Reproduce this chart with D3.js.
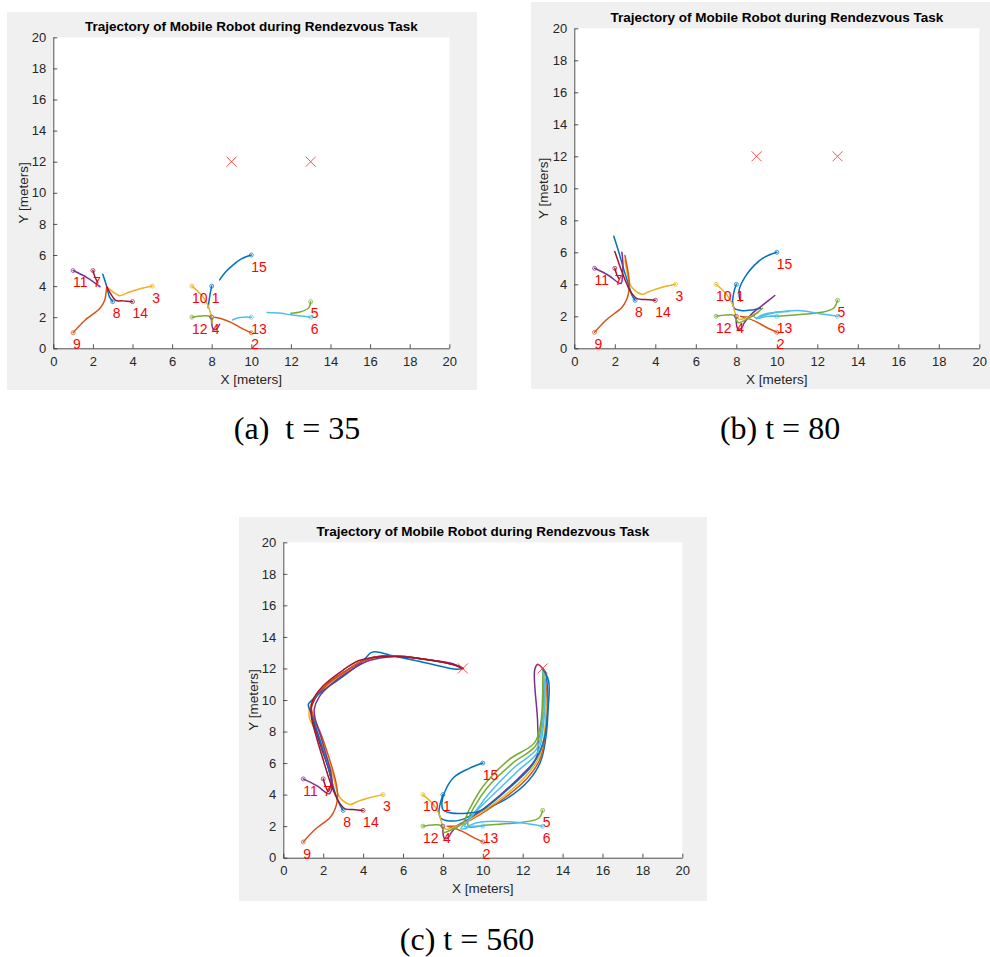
<!DOCTYPE html>
<html lang="en">
<head>
  <meta charset="UTF-8">
  <title>Trajectory of Mobile Robot during Rendezvous Task</title>
  <script src="https://cdn.jsdelivr.net/npm/d3@7"></script>
  <style>
    body { margin: 0; background: #fff; }
    svg text { font-family: "Liberation Sans", Arial, sans-serif; }
    .caption { font-family: "Liberation Serif", "Times New Roman", serif !important; white-space: pre; }
  </style>
</head>
<body>
<div id="app"></div>
<script>
  // robot ids and start positions
  const robotLabels = ['1', '2', '3', '4', '5', '6', '7', '8', '9', '10', '11', '12', '13', '14', '15'];
  const startX = [8, 10, 5, 8, 13, 13, 2, 3, 1, 7, 1, 7, 10, 4, 10];
  const startY = [4, 1, 4, 2, 3, 2, 5, 3, 1, 4, 5, 2, 2, 3, 6];
  const targetX = [9, 13];
  const targetY = [12, 12];
  const xTicks = [0, 2, 4, 6, 8, 10, 12, 14, 16, 18, 20];
  const yTicks = [0, 2, 4, 6, 8, 10, 12, 14, 16, 18, 20];
  const captions = ['(a)  t = 35', '(b) t = 80', '(c) t = 560'];

  // trajectories at t = 35
  const pathsT35 = [
    [[8, 4], [7.92, 3.5], [7.86, 3.0], [7.82, 2.6]],
    [[10, 1], [9.5, 1.3], [9.0, 1.65], [8.5, 1.9], [8.15, 2.0]],
    [[5, 4], [4.3, 3.8], [3.7, 3.55], [3.35, 3.38], [3.05, 3.6], [2.75, 3.9]],
    [[8, 2], [8.0, 1.6], [8.08, 1.22], [8.25, 1.25], [8.4, 1.55]],
    [[13, 3], [12.9, 2.6], [12.5, 2.35], [12.0, 2.25]],
    [[13, 2], [12.0, 2.15], [11.5, 2.25], [10.8, 2.3]],
    [[2, 5], [2.1, 4.6], [2.25, 4.2]],
    [[3, 3], [2.83, 3.32], [2.7, 3.96], [2.5, 4.76]],
    [[1, 1], [1.6, 1.8], [2.36, 2.57], [2.6, 3.1], [2.66, 3.54], [2.7, 3.92]],
    [[7, 4], [7.5, 3.4], [7.8, 2.8], [8.0, 2.0], [8.05, 1.8]],
    [[1, 5], [1.7, 4.55], [2.36, 3.96]],
    [[7, 2], [7.5, 2.08], [7.9, 2.05], [8.0, 1.8], [8.0, 1.6]],
    [[10, 2], [9.6, 2.0], [9.3, 1.95], [9.05, 1.82]],
    [[4, 3], [3.5, 3.05], [3.15, 3.08], [2.9, 3.5], [2.7, 3.95]],
    [[10, 6], [9.5, 5.75], [9.1, 5.38], [8.7, 4.9], [8.4, 4.4]]
  ];

  // trajectories at t = 80
  const pathsT80 = [
    [[8, 4], [7.88, 3.5], [7.82, 2.9], [7.9, 2.5], [8.3, 2.35], [8.8, 2.4], [9.2, 2.5]],
    [[10, 1], [9.5, 1.3], [9.0, 1.65], [8.5, 1.9], [8.2, 2.0], [8.5, 1.95], [8.9, 2.05]],
    [[5, 4], [4.3, 3.8], [3.7, 3.55], [3.35, 3.38], [3.0, 3.6], [2.75, 4.0], [2.6, 4.8], [2.5, 5.5]],
    [[8, 2], [8.0, 1.6], [8.08, 1.22], [8.25, 1.25], [8.4, 1.6], [8.8, 2.2], [9.3, 2.7], [9.9, 3.3]],
    [[13, 3], [12.8, 2.5], [12.2, 2.25], [11, 2.1], [10.2, 2.02], [9.7, 2.0]],
    [[13, 2], [12.2, 2.15], [11.2, 2.35], [10.3, 2.3], [9.6, 2.15], [9.0, 1.9], [8.9, 1.95]],
    [[2, 5], [2.1, 4.6], [2.2, 4.35]],
    [[3, 3], [2.85, 3.3], [2.7, 3.9], [2.45, 4.9], [2.2, 6.0], [1.95, 7.0]],
    [[1, 1], [1.6, 1.8], [2.36, 2.57], [2.6, 3.1], [2.7, 3.6], [2.72, 4.1], [2.65, 4.8], [2.5, 5.8]],
    [[7, 4], [7.5, 3.4], [7.8, 2.8], [8.0, 2.0], [8.15, 1.8], [8.6, 1.95], [9.1, 2.25]],
    [[1, 5], [1.7, 4.55], [2.3, 4.05], [2.38, 4.6], [2.4, 5.3], [2.35, 6.0]],
    [[7, 2], [7.5, 2.08], [7.9, 2.05], [8.0, 1.8], [8.1, 1.6], [8.5, 1.8], [9.0, 2.2], [9.3, 2.5]],
    [[10, 2], [9.6, 2.0], [9.2, 1.9], [9.0, 1.85], [9.3, 2.1], [9.9, 2.25], [10.6, 2.3]],
    [[4, 3], [3.5, 3.05], [3.1, 3.1], [2.8, 3.5], [2.6, 4.0], [2.35, 4.8], [2.15, 5.5], [2.0, 6.05]],
    [[10, 6], [9.4, 5.7], [8.9, 5.2], [8.45, 4.5], [8.15, 3.7], [8.15, 3.2], [8.22, 2.95]]
  ];

  // trajectories at t = 560
  const pathsT560 = [
    [[8, 4], [7.88, 3.5], [7.8, 2.9], [7.9, 2.5], [8.3, 2.33], [8.9, 2.4], [9.6, 2.8], [11.2, 3.75], [12.3, 4.9], [12.9, 6.1], [13.2, 8], [13.25, 10.5], [13.15, 11.7], [13, 12]],
    [[10, 1], [9.5, 1.3], [9.0, 1.65], [8.5, 1.9], [8.2, 2.0], [8.6, 2.0], [9.4, 2.4], [11.1, 3.8], [12.2, 5.0], [12.85, 6.2], [13.15, 8], [13.2, 10.5], [13, 12]],
    [[5, 4], [4.3, 3.8], [3.7, 3.55], [3.35, 3.38], [3.0, 3.6], [2.75, 4.0], [2.5, 5.2], [2.1, 6.6], [1.7, 7.9], [1.3, 8.9], [1.35, 9.6], [1.7, 10.3], [2.3, 11.0], [3.3, 11.9], [4.2, 12.55], [5.5, 12.8], [7, 12.6], [8.4, 12.3], [9, 12]],
    [[8, 2], [8.0, 1.6], [8.08, 1.22], [8.25, 1.25], [8.4, 1.55], [8.7, 2.0], [9.5, 2.6], [10.8, 3.9], [12.0, 5.3], [12.7, 6.4], [12.75, 8.5], [12.6, 11.9], [12.75, 12.25], [13, 12]],
    [[13, 3], [12.8, 2.5], [12, 2.25], [10.2, 2.07], [9.3, 1.96], [9.27, 2.4], [10.2, 4.4], [11.5, 6.0], [12.65, 7.1], [12.95, 8.5], [13.05, 10.5], [13, 12]],
    [[13, 2], [12, 2.2], [11.3, 2.28], [10.2, 2.3], [9.7, 2.22], [9.1, 1.97], [9.35, 2.5], [10.6, 4.1], [11.8, 5.55], [12.75, 6.7], [13.05, 8.5], [13.1, 11], [13, 12]],
    [[2, 5], [2.1, 4.6], [2.25, 4.2], [2.4, 4.8], [2.3, 5.5], [1.95, 6.8], [1.6, 8.2], [1.4, 9.4], [1.6, 10.1], [2.2, 11.0], [3.2, 11.9], [4.0, 12.5], [5.0, 12.8], [6.5, 12.7], [8.0, 12.4], [8.8, 12.15], [9, 12]],
    [[3, 3], [2.85, 3.3], [2.6, 4.1], [2.3, 5.5], [1.9, 7.2], [1.45, 9.0], [1.25, 9.7], [1.4, 9.95], [2.0, 10.6], [3.0, 11.5], [4.0, 12.5], [4.4, 13.0], [4.7, 13.05], [5.5, 12.8], [7.0, 12.4], [8.7, 11.95], [9, 12]],
    [[1, 1], [1.6, 1.8], [2.36, 2.57], [2.6, 3.1], [2.7, 3.6], [2.72, 4.1], [2.6, 5.0], [2.3, 6.3], [1.9, 7.8], [1.5, 9.0], [1.4, 9.6], [1.6, 10.2], [2.2, 11.0], [3.2, 11.9], [4.2, 12.6], [5.5, 12.8], [7, 12.6], [8.4, 12.3], [9, 12]],
    [[7, 4], [7.5, 3.4], [7.8, 2.8], [8.0, 2.0], [8.15, 1.8], [8.6, 1.95], [9.2, 2.3], [11.0, 3.85], [12.1, 5.1], [12.8, 6.3], [13.1, 8], [13.15, 10.5], [13, 12]],
    [[1, 5], [1.7, 4.55], [2.3, 4.05], [2.45, 4.5], [2.4, 5.3], [2.2, 6.3], [1.9, 7.6], [1.6, 8.8], [1.55, 9.4], [1.8, 10.2], [2.4, 11.0], [3.4, 11.9], [4.3, 12.5], [5.5, 12.75], [7, 12.6], [8.5, 12.3], [9, 12]],
    [[7, 2], [7.5, 2.08], [7.9, 2.05], [8.0, 1.8], [8.05, 1.6], [8.4, 1.75], [9.0, 2.2], [9.3, 3.0], [10.0, 4.5], [11.3, 6.2], [12.6, 7.3], [12.9, 8.5], [13.0, 10.5], [13, 12]],
    [[10, 2], [9.6, 2.0], [9.3, 1.95], [9.05, 1.82], [8.9, 1.85], [9.3, 2.4], [10.4, 4.2], [11.6, 5.75], [12.7, 6.9], [13.0, 8.5], [13.1, 10.5], [13, 12]],
    [[4, 3], [3.5, 3.05], [3.1, 3.1], [2.8, 3.5], [2.6, 4.0], [2.35, 4.8], [2.0, 6.2], [1.65, 7.7], [1.4, 9.0], [1.45, 9.9], [2.0, 10.9], [3.0, 11.9], [3.8, 12.5], [4.8, 12.75], [6.0, 12.75], [7.5, 12.5], [8.5, 12.25], [9, 12]],
    [[10, 6], [9.3, 5.65], [8.55, 5.1], [8.1, 4.2], [7.95, 3.5], [8.0, 3.05], [8.35, 2.85], [9.2, 2.82], [9.9, 3.0], [11.4, 4.5], [12.5, 5.9], [13.05, 7.4], [13.25, 9.2], [13.3, 11.2], [13, 12]]
  ];

  // matlab default line colours, cycling
  const palette = ['#0072BD', '#D95319', '#EDB120', '#7E2F8E', '#77AC30', '#4DBEEE', '#A2142F'];

  const W = 990, H = 957;
  const svg = d3.select('#app').append('svg')
    .attr('width', W)
    .attr('height', H);

  // figure boxes, plot areas
  const layout = [
    { box: [7, 12, 470, 378], plot: [53.3, 37.3, 396, 311], titleY: 26, xlabY: 379, ylabX: 23, cap: [297, 428] },
    { box: [531, 2, 459, 387], plot: [574.3, 28.3, 405, 320], titleY: 17, xlabY: 379, ylabX: 543, cap: [780, 428] },
    { box: [239, 517, 468, 384], plot: [283.3, 542.3, 399, 315.4], titleY: 531, xlabY: 888, ylabX: 253, cap: [467, 939] }
  ];
  const allPaths = [pathsT35, pathsT80, pathsT560];

  function drawPanel(cfg, paths, caption) {
    const [bx, by, bw, bh] = cfg.box;
    const [px, py, pw, ph] = cfg.plot;

    svg.append('rect')
      .attr('x', bx).attr('y', by)
      .attr('width', bw).attr('height', bh)
      .attr('fill', '#f0f0f0');
    svg.append('rect')
      .attr('x', px).attr('y', py)
      .attr('width', pw).attr('height', ph)
      .attr('fill', '#fff');

    const x = d3.scaleLinear().domain([0, 20]).range([px, px + pw]);
    const y = d3.scaleLinear().domain([0, 20]).range([py + ph, py]);

    const xAxis = d3.axisBottom(x).tickValues(xTicks).tickSizeInner(-4).tickSizeOuter(0).tickPadding(8);
    const yAxis = d3.axisLeft(y).tickValues(yTicks).tickSizeInner(-4).tickSizeOuter(0).tickPadding(7);

    const gx = svg.append('g')
      .attr('transform', `translate(0, ${py + ph})`)
      .call(xAxis);
    const gy = svg.append('g')
      .attr('transform', `translate(${px}, 0)`)
      .call(yAxis);
    [gx, gy].forEach(g => {
      g.select('.domain').attr('stroke', '#262626').attr('stroke-width', 0.8);
      g.selectAll('.tick line').attr('stroke', '#262626').attr('stroke-width', 0.8);
      g.selectAll('.tick text')
        .attr('fill', '#262626')
        .style('font-size', '13px');
    });

    const line = d3.line()
      .x(d => x(d[0]))
      .y(d => y(d[1]))
      .curve(d3.curveCatmullRom.alpha(0.5));

    const plot = svg.append('g');

    paths.forEach((pts, i) => {
      const c = palette[i % palette.length];
      plot.append('path')
        .attr('d', line(pts))
        .attr('fill', 'none')
        .attr('stroke', c)
        .attr('stroke-width', 1.5)
        .attr('stroke-linejoin', 'round')
        .attr('stroke-linecap', 'round');
    });

    paths.forEach((pts, i) => {
      const c = palette[i % palette.length];
      plot.append('circle')
        .attr('cx', x(startX[i]))
        .attr('cy', y(startY[i]))
        .attr('r', 2)
        .attr('fill', 'none')
        .attr('stroke', c)
        .attr('stroke-opacity', 0.8)
        .attr('stroke-width', 0.9);
      plot.append('text')
        .attr('x', x(startX[i]))
        .attr('y', y(startY[i] - 0.75))
        .attr('dy', '0.35em')
        .attr('fill', '#ff0000')
        .style('font-size', '14px')
        .text(robotLabels[i]);
    });

    // rendezvous targets
    targetX.forEach((tx, k) => {
      const cx = x(tx), cy = y(targetY[k]);
      plot.append('path')
        .attr('d', `M${cx - 5},${cy - 5}L${cx + 5},${cy + 5}M${cx - 5},${cy + 5}L${cx + 5},${cy - 5}`)
        .attr('stroke', '#ff3333')
        .attr('stroke-opacity', 0.85)
        .attr('stroke-width', 1);
    });

    svg.append('text')
      .attr('x', px + pw / 2)
      .attr('y', cfg.titleY)
      .attr('dy', '0.35em')
      .attr('text-anchor', 'middle')
      .attr('font-weight', 'bold')
      .attr('fill', '#000')
      .style('font-size', '13.5px')
      .text('Trajectory of Mobile Robot during Rendezvous Task');

    svg.append('text')
      .attr('x', px + pw / 2)
      .attr('y', cfg.xlabY)
      .attr('dy', '0.35em')
      .attr('text-anchor', 'middle')
      .attr('fill', '#262626')
      .style('font-size', '13.5px')
      .text('X [meters]');

    svg.append('text')
      .attr('transform', `translate(${cfg.ylabX}, ${py + ph / 2}) rotate(-90)`)
      .attr('dy', '0.35em')
      .attr('text-anchor', 'middle')
      .attr('fill', '#262626')
      .style('font-size', '13.5px')
      .text('Y [meters]');

    svg.append('text')
      .attr('class', 'caption')
      .attr('x', cfg.cap[0])
      .attr('y', cfg.cap[1])
      .attr('dy', '0.35em')
      .attr('text-anchor', 'middle')
      .attr('fill', '#000')
      .style('font-size', '32px')
      .text(caption);
  }

  layout.forEach((cfg, k) => drawPanel(cfg, allPaths[k], captions[k]));
</script>
</body>
</html>
